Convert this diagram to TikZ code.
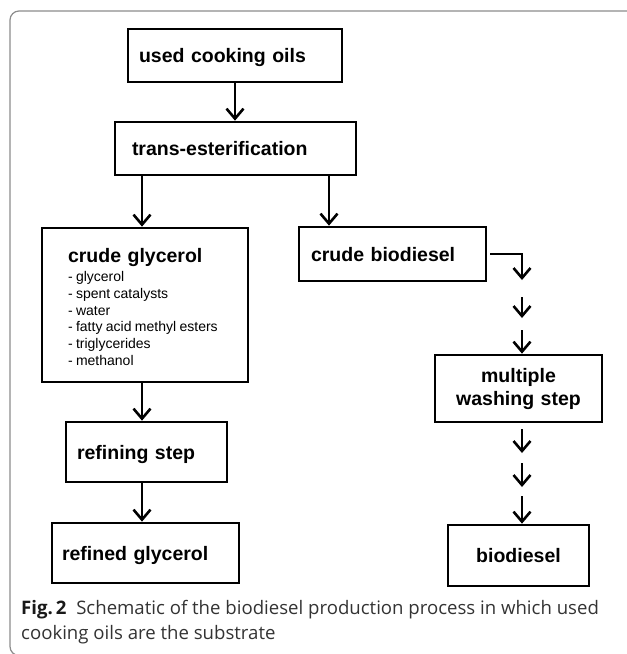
\documentclass[tikz,border=0pt]{standalone}
\usepackage{fontspec}
\setmainfont{Liberation Sans}
\newfontfamily\capfont{Open Sans}
\usetikzlibrary{arrows.meta}

\begin{document}
\begin{tikzpicture}[x=1pt, y=-1pt,
boxnode/.style={rectangle, draw=black, line width=2.7pt, inner ysep=0pt, text depth=0pt, align=left, font=\fontsize{19.5}{23}\selectfont\bfseries},
arr/.style={-{Straight Barb[length=10pt, width=17pt, line width=2.6pt]}, line width=2.7pt},
]
\useasboundingbox (0,0) rectangle (627,654);
\clip (0,0) rectangle (627,654);
\draw[black!45, line width=1.2pt, rounded corners=9pt] (10,11) rectangle (660,655.5);

%Nodes
\node[boxnode, minimum height=53, text width=192, inner xsep=11] (oils)  at (235,55.5)  {used cooking oils};
\node[boxnode, minimum height=53, text width=207, inner xsep=17] (trans) at (235.5,148.5) {trans-esterification};
\node[boxnode, minimum height=154, text width=154, inner xsep=26, text depth=] (cglyc) at (145,305)
  {\rule{0pt}{23pt}crude glycerol\\[2pt]
   \mdseries\fontsize{14}{16.8}\selectfont\spaceskip=3.4pt
   \begin{tabular}{@{}l@{}}
   - glycerol\\ - spent catalysts\\ - water\\ - fatty acid methyl esters\\ - triglycerides\\ - methanol
   \end{tabular}};
\node[boxnode, minimum height=54, text width=163, inner xsep=12] (cbio)  at (392.5,254) {crude biodiesel};
\node[boxnode, minimum height=67, text width=167, inner xsep=0, text depth=, align=center] (wash) at (518.5,388.5) {multiple\\washing step};
\node[boxnode, minimum height=60, text width=139, inner xsep=11] (refin) at (146.5,452) {refining step};
\node[boxnode, minimum height=60, text width=167, inner xsep=10] (rglyc) at (145.5,553) {refined glycerol};
\node[boxnode, minimum height=61, text width=141, inner xsep=0, align=center] (biod) at (518.5,555.5) {biodiesel};

\node[anchor=north west, align=left, inner sep=0pt, text=black!80, font=\capfont\fontsize{18.6}{25}\selectfont] (caption) at (21,600)
  {\textcolor{black!90}{\textbf{Fig.\,2}}\ \ Schematic of the biodiesel production process in which used\\cooking oils are the substrate};

%Coordinates
\coordinate (lx) at (142,0);
\coordinate (mx) at (329,0);
\coordinate (rx) at (522,0);
\coordinate (w1) at (522,280);
\coordinate (w2) at (522,297);
\coordinate (w3) at (522,318);
\coordinate (w4) at (522,330);
\coordinate (b1) at (522,429);
\coordinate (b2) at (522,453);
\coordinate (b3) at (522,463);
\coordinate (b4) at (522,487);
\coordinate (b5) at (522,496);

%Lines
\draw[arr] (oils.south) -- (oils.south |- trans.north);
\draw[arr] (lx |- trans.south) -- (lx |- cglyc.north);
\draw[arr] (mx |- trans.south) -- (mx |- cbio.north);
\draw[arr] (lx |- cglyc.south) -- (lx |- refin.north);
\draw[arr] (lx |- refin.south) -- (lx |- rglyc.north);
\draw[arr] ([xshift=3pt]cbio.east) -| (w1);
\draw[arr] (w2) -- (w3);
\draw[arr] (w4) -- (rx |- wash.north);
\draw[arr] (b1) -- (b2);
\draw[arr] (b3) -- (b4);
\draw[arr] (b5) -- (rx |- biod.north);

\end{tikzpicture}
\end{document}
